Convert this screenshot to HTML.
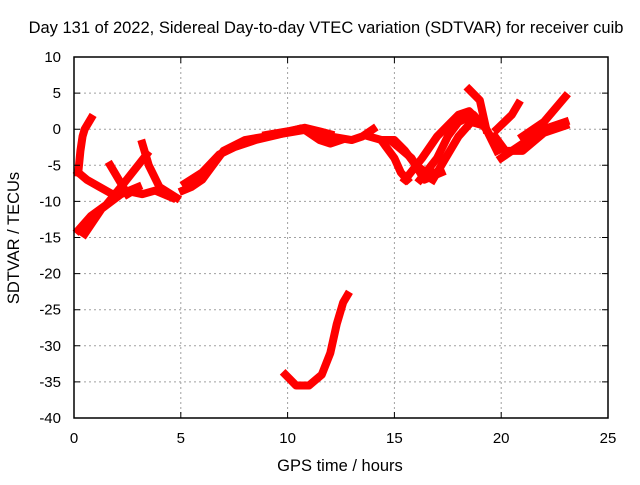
<!DOCTYPE html>
<html><head><meta charset="utf-8"><style>
body{margin:0;background:#fff}
svg text{font-family:"Liberation Sans",sans-serif;font-size:15px;fill:#000}
</style></head><body>
<svg id="chart" width="640" height="480" viewBox="0 0 640 480" xmlns="http://www.w3.org/2000/svg">
<rect width="640" height="480" fill="#fff"/>
<text x="326" y="33" text-anchor="middle" style="font-size:16.5px">Day 131 of 2022, Sidereal Day-to-day VTEC variation (SDTVAR) for receiver cuib</text>
<text x="340" y="471" text-anchor="middle" style="font-size:16.5px">GPS time / hours</text>
<text transform="translate(19,238) rotate(-90)" text-anchor="middle" style="font-size:16.5px">SDTVAR / TECUs</text>
<g id="grid"></g><g id="series"></g><g id="axes"></g>
</svg>
<script>
const xTicks=[0,5,10,15,20,25];
const yTicks=[10,5,0,-5,-10,-15,-20,-25,-30,-35,-40];
const trace1=[[0.2,-6],[0.3,-3],[0.4,-1],[0.5,0],[0.8,1.5]];
const trace2=[[0.2,-6],[0.6,-7],[1.2,-8],[1.8,-9],[2.4,-8.5],[3.2,-9],[3.8,-8.5],[4.6,-9.5]];
const trace3=[[0.2,-14],[0.8,-12],[1.5,-10.5],[2.2,-8],[3,-5],[3.4,-3.5]];
const trace4=[[0.5,-14.5],[1.3,-11],[2.2,-9],[3,-8]];
const trace5=[[1.7,-5],[2.1,-7],[2.5,-9]];
const trace6=[[3.2,-2],[3.5,-5],[4,-8],[4.8,-9.5]];
const trace7=[[5.1,-8.5],[5.5,-8],[6,-7],[6.5,-5],[7,-3],[8,-1.5],[9,-1],[10,-0.5],[11,0],[12,-1],[13,-1.5],[13.5,-1],[14,0]];
const trace8=[[5.2,-7.5],[6,-6],[6.8,-3.5],[7.5,-2.5],[8.5,-1.5],[9.5,-0.8],[10.5,0]];
const trace9=[[11,-0.5],[11.5,-1.5],[12,-2],[12.5,-1.5]];
const trace10=[[13.8,-1],[14.4,-1.5],[15,-1.5],[15.5,-3],[16,-5],[16.5,-6],[17,-6]];
const trace11=[[14.5,-2],[15,-4],[15.3,-6],[15.6,-7]];
const trace12=[[15.5,-7],[16.3,-4],[17,-1],[17.5,0.5],[18,2],[18.5,2.5],[19,1]];
const trace13=[[16.2,-7],[17,-4],[17.5,-1],[18,1],[18.7,2],[19.3,0],[19.8,-3]];
const trace14=[[18.5,5.5],[19,4],[19.3,0]];
const trace15=[[19.7,-1],[20.2,-3],[21,-3],[22,-0.5],[23,0.5]];
const trace16=[[19.8,0],[20.5,2],[20.8,3.5]];
const trace17=[[21,-1],[22,1],[23,4.5]];
const trace18=[[20,-4],[21,-2],[22,0],[23,1]];
const trace19=[[9.9,-34],[10.4,-35.5],[11,-35.5],[11.6,-34],[12,-31],[12.3,-27],[12.6,-24],[12.8,-23]];
const trace20=[[16.8,-7],[17.4,-4],[18,-1],[18.6,1],[19.2,0.5],[19.6,-1.5]];
const trace21=[[15,-2],[15.8,-4],[16.4,-7],[17.2,-6]];
const trace22=[[9,-0.8],[10,-0.3],[10.8,0.2],[11.5,-0.3],[12,-0.7]];
const allTraces=[trace1,trace2,trace3,trace4,trace5,trace6,trace7,trace8,trace9,trace10,trace11,trace12,trace13,trace14,trace15,trace16,trace17,trace18,trace19,trace20,trace21,trace22];
const X0=74,X1=608,Y0=57,Y1=418,xMin=0,xMax=25,yMin=-40,yMax=10;
const sx=v=>X0+(v-xMin)/(xMax-xMin)*(X1-X0);
const sy=v=>Y1-(v-yMin)/(yMax-yMin)*(Y1-Y0);
const NS="http://www.w3.org/2000/svg";
function mk(t,a,p){const e=document.createElementNS(NS,t);for(const k in a)e.setAttribute(k,a[k]);p.appendChild(e);return e;}
const grid=document.getElementById('grid'),axes=document.getElementById('axes'),ser=document.getElementById('series');
xTicks.forEach(t=>{
  if(t>xMin&&t<xMax){const g=mk('line',{x1:sx(t),x2:sx(t),y1:Y0,y2:Y1,stroke:'#a0a0a0','stroke-dasharray':'2,3'},grid);
  
  }
  const tk=mk('path',{d:`M${sx(t)},${Y1}v-6M${sx(t)},${Y0}v6`,stroke:'#000'},axes);
  
  
  const l=mk('text',{x:sx(t),y:Y1+25,'text-anchor':'middle'},axes);l.textContent=t;
  
  
});
yTicks.forEach(t=>{
  if(t>yMin&&t<yMax){const g=mk('line',{x1:X0,x2:X1,y1:sy(t),y2:sy(t),stroke:'#a0a0a0','stroke-dasharray':'2,3'},grid);
  
  }
  const tk=mk('path',{d:`M${X0},${sy(t)}h6M${X1},${sy(t)}h-6`,stroke:'#000'},axes);
  
  
  const l=mk('text',{x:X0-13,y:sy(t)+5,'text-anchor':'end'},axes);l.textContent=t;
  
  
});
const fr=mk('rect',{x:X0,y:Y0,width:X1-X0,height:Y1-Y0,fill:'none',stroke:'#000','stroke-width':1.5},axes);


allTraces.forEach(tr=>{
  const p=mk('polyline',{points:tr.map(d=>sx(d[0])+','+sy(d[1])).join(' '),fill:'none',stroke:'#ff0000','stroke-width':8,'stroke-linejoin':'round','stroke-linecap':'square'},ser);
  
  
});
</script>
</body></html>
